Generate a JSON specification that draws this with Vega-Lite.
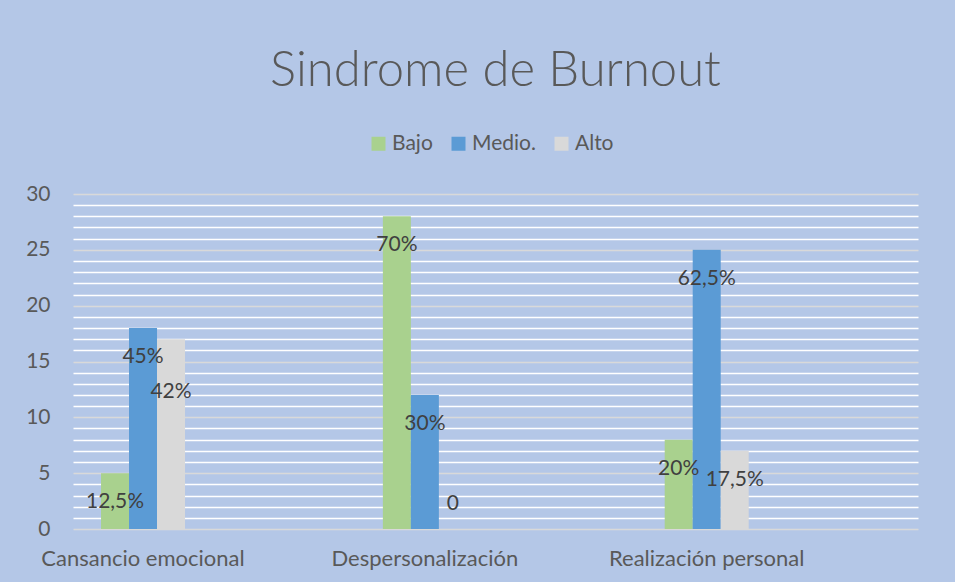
{
  "$schema": "https://vega.github.io/schema/vega-lite/v6.json",
  "width": 845,
  "height": 335,
  "autosize": {"type": "none"},
  "padding": {"left": 73, "top": 194, "right": 37, "bottom": 53},
  "background": "#b4c7e7",
  "title": {
    "text": "Sindrome de Burnout",
    "font": "Lato",
    "fontSize": 49,
    "fontWeight": 300,
    "color": "#595959",
    "anchor": "middle",
    "offset": 37
  },
  "data": {
    "values": [
      {"category": "Cansancio emocional", "level": "Bajo", "value": 5, "label": "12,5%"},
      {"category": "Cansancio emocional", "level": "Medio.", "value": 18, "label": "45%"},
      {"category": "Cansancio emocional", "level": "Alto", "value": 17, "label": "42%"},
      {"category": "Despersonalización", "level": "Bajo", "value": 28, "label": "70%"},
      {"category": "Despersonalización", "level": "Medio.", "value": 12, "label": "30%"},
      {"category": "Despersonalización", "level": "Alto", "value": 0, "label": "0"},
      {"category": "Realización personal", "level": "Bajo", "value": 8, "label": "20%"},
      {"category": "Realización personal", "level": "Medio.", "value": 25, "label": "62,5%"},
      {"category": "Realización personal", "level": "Alto", "value": 7, "label": "17,5%"}
    ]
  },
  "encoding": {
    "x": {
      "field": "category",
      "type": "nominal",
      "sort": ["Cansancio emocional", "Despersonalización", "Realización personal"],
      "scale": {"paddingInner": 0.7019, "paddingOuter": 0.35, "align": 0.142},
      "axis": {
        "title": null,
        "labelAngle": 0,
        "labelFont": "Lato",
        "labelFontSize": 22,
        "labelColor": "#595959",
        "labelPadding": 19,
        "labelLimit": 400,
        "domain": false,
        "ticks": false
      }
    },
    "xOffset": {
      "field": "level",
      "type": "nominal",
      "sort": ["Bajo", "Medio.", "Alto"],
      "scale": {"paddingInner": 0, "paddingOuter": 0}
    },
    "y": {
      "field": "value",
      "type": "quantitative",
      "scale": {"domain": [0, 30], "nice": false},
      "axis": {
        "title": null,
        "values": [0,1,2,3,4,5,6,7,8,9,10,11,12,13,14,15,16,17,18,19,20,21,22,23,24,25,26,27,28,29,30],
        "labelExpr": "datum.value % 5 === 0 ? datum.label : ''",
        "labelFont": "Lato",
        "labelFontSize": 21,
        "labelColor": "#595959",
        "labelPadding": 23,
        "domain": false,
        "ticks": false,
        "grid": true,
        "gridWidth": 1.5,
        "gridColor": {"condition": {"test": "datum.value % 5 === 0", "value": "#d9d9d9"}, "value": "#ffffff"}
      }
    }
  },
  "layer": [
    {
      "mark": {"type": "bar"},
      "encoding": {
        "color": {
          "field": "level",
          "type": "nominal",
          "sort": ["Bajo", "Medio.", "Alto"],
          "scale": {"domain": ["Bajo", "Medio.", "Alto"], "range": ["#a9d18e", "#5b9bd5", "#d9d9d9"]},
          "legend": {
            "title": null,
            "orient": "none",
            "direction": "horizontal",
            "legendX": 295,
            "legendY": -61,
            "symbolType": "square",
            "symbolSize": 196,
            "symbolStrokeWidth": 0,
            "labelFont": "Lato",
            "labelFontSize": 21,
            "labelColor": "#595959",
            "labelOffset": 3,
            "columnPadding": 15,
            "padding": 0
          }
        }
      }
    },
    {
      "transform": [{"filter": "datum.value > 0 && datum.label !== '42%'"}],
      "mark": {"type": "text", "baseline": "middle", "dy": 29, "font": "Lato", "fontSize": 21, "color": "#404040"},
      "encoding": {"text": {"field": "label"}}
    },
    {
      "transform": [{"filter": "datum.label === '42%'"}],
      "mark": {"type": "text", "baseline": "middle", "dy": 53, "font": "Lato", "fontSize": 21, "color": "#404040"},
      "encoding": {"text": {"field": "label"}}
    },
    {
      "transform": [{"filter": "datum.value === 0"}],
      "mark": {"type": "text", "baseline": "middle", "dy": -25, "font": "Lato", "fontSize": 21, "color": "#404040"},
      "encoding": {"text": {"field": "label"}}
    }
  ],
  "config": {
    "view": {"stroke": null}
  }
}
